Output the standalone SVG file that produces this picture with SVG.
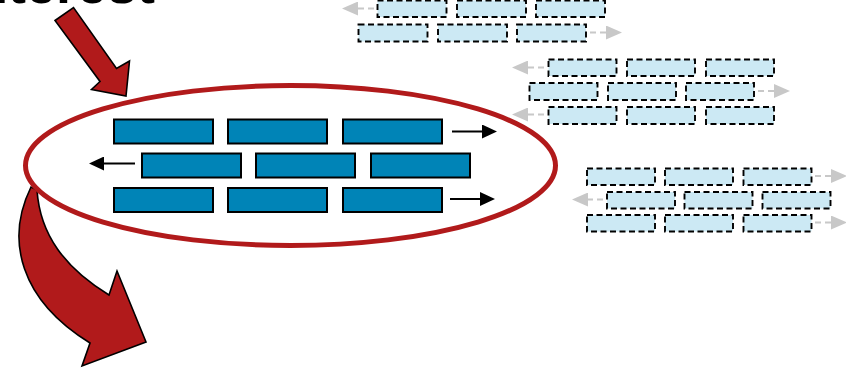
<svg xmlns="http://www.w3.org/2000/svg" width="846" height="368" viewBox="0 0 846 368">
<style>
.title{font-family:"Liberation Sans",Arial,sans-serif;font-weight:bold;font-size:54px;fill:#000}
.blk{fill:#0084B7;stroke:#000;stroke-width:2}
.fade{fill:#CCE9F4;stroke:#000;stroke-width:1.9;stroke-dasharray:6 3.5}
.red{fill:#B11A1B;stroke:#000;stroke-width:1.6;stroke-linejoin:miter}
.ar{stroke:#000;stroke-width:2;fill:none}
.gar{stroke:#C8C8C8;stroke-width:2;stroke-dasharray:6 4;fill:none}
</style>
<defs>
<marker id="ah" viewBox="0 0 15 14" refX="0" refY="7" markerWidth="15" markerHeight="14" markerUnits="userSpaceOnUse" orient="auto"><path d="M0,0 L15,7 L0,14 Z" fill="#000"/></marker>
<marker id="gh" viewBox="0 0 16 14" refX="0" refY="7" markerWidth="16" markerHeight="14" markerUnits="userSpaceOnUse" orient="auto"><path d="M0,0 L16,7 L0,14 Z" fill="#C8C8C8"/></marker>
</defs>
<rect width="846" height="368" fill="#fff"/>
<text class="title" x="155" y="3" text-anchor="end">Interest</text>

<g id="arrow-in"><path class="red" d="M55,20.5 L73.5,7.5 L116.5,68.5 L129.5,61 L126,96 L91.5,89.5 L100,81.5 Z"/></g>
<g id="arrow-out"><path class="red" d="M31,187 C5,240 20,300 90,343 L82,366 L146,342 L117,271 L109,295 C65,268 40,235 37,190 Z"/></g>
<g id="focus"><ellipse cx="290.5" cy="165.5" rx="265" ry="80" fill="none" stroke="#B11A1B" stroke-width="5"/></g>

<g id="cluster-main">
<rect class="blk" x="114" y="119.5" width="99" height="24"/>
<rect class="blk" x="228" y="119.5" width="99" height="24"/>
<rect class="blk" x="343" y="119.5" width="99" height="24"/>
<rect class="blk" x="142" y="153.5" width="99" height="24"/>
<rect class="blk" x="256" y="153.5" width="99" height="24"/>
<rect class="blk" x="371" y="153.5" width="99" height="24"/>
<rect class="blk" x="114" y="188" width="99" height="24"/>
<rect class="blk" x="228" y="188" width="99" height="24"/>
<rect class="blk" x="343" y="188" width="99" height="24"/>
</g>

<g id="cluster-a">
<rect class="fade" x="377.5" y="0.5" width="69" height="16.5"/>
<rect class="fade" x="457" y="0.5" width="69" height="16.5"/>
<rect class="fade" x="536" y="0.5" width="69" height="16.5"/>
<rect class="fade" x="358.5" y="24.5" width="69" height="17"/>
<rect class="fade" x="438" y="24.5" width="69" height="17"/>
<rect class="fade" x="517" y="24.5" width="69" height="17"/>
</g>
<g id="cluster-b">
<rect class="fade" x="548.5" y="59.5" width="68" height="16.5"/>
<rect class="fade" x="627" y="59.5" width="68" height="16.5"/>
<rect class="fade" x="706" y="59.5" width="68" height="16.5"/>
<rect class="fade" x="529.5" y="83" width="68" height="17"/>
<rect class="fade" x="608" y="83" width="68" height="17"/>
<rect class="fade" x="686" y="83" width="68" height="17"/>
<rect class="fade" x="548.5" y="107" width="68" height="17"/>
<rect class="fade" x="627" y="107" width="68" height="17"/>
<rect class="fade" x="706" y="107" width="68" height="17"/>
</g>
<g id="cluster-c">
<rect class="fade" x="587" y="168.5" width="68" height="16.5"/>
<rect class="fade" x="665" y="168.5" width="68" height="16.5"/>
<rect class="fade" x="743.5" y="168.5" width="68" height="16.5"/>
<rect class="fade" x="607" y="192" width="68" height="16.5"/>
<rect class="fade" x="684.5" y="192" width="68" height="16.5"/>
<rect class="fade" x="762.5" y="192" width="68" height="16.5"/>
<rect class="fade" x="587" y="215" width="68" height="16.5"/>
<rect class="fade" x="665" y="215" width="68" height="16.5"/>
<rect class="fade" x="743.5" y="215" width="68" height="16.5"/>
</g>

<g id="connectors">
<line class="ar" x1="452" y1="131.5" x2="482" y2="131.5" marker-end="url(#ah)"/>
<line class="ar" x1="135" y1="163.5" x2="104" y2="163.5" marker-end="url(#ah)"/>
<line class="ar" x1="450" y1="199" x2="480" y2="199" marker-end="url(#ah)"/>
<line class="gar" x1="374" y1="8.5" x2="358" y2="8.5" marker-end="url(#gh)"/>
<line class="gar" x1="590" y1="32.5" x2="606" y2="32.5" marker-end="url(#gh)"/>
<line class="gar" x1="544" y1="67.5" x2="528" y2="67.5" marker-end="url(#gh)"/>
<line class="gar" x1="758" y1="91" x2="774" y2="91" marker-end="url(#gh)"/>
<line class="gar" x1="544" y1="114.5" x2="528" y2="114.5" marker-end="url(#gh)"/>
<line class="gar" x1="815" y1="176" x2="831" y2="176" marker-end="url(#gh)"/>
<line class="gar" x1="603" y1="199.5" x2="588" y2="199.5" marker-end="url(#gh)"/>
<line class="gar" x1="815" y1="222.5" x2="831" y2="222.5" marker-end="url(#gh)"/>
</g>
</svg>
